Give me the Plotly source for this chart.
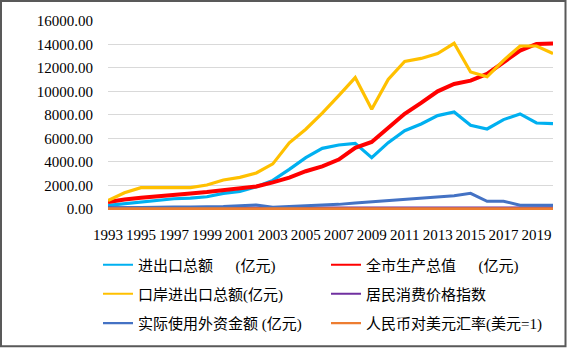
import plotly.graph_objects as go

years = [str(y) for y in range(1993, 2021)]
tick_years = years[::2]
y_ticks = list(range(0, 16001, 2000))

trade_total = [290, 430, 630, 740, 860, 910, 1030, 1310, 1490, 1880, 2420, 3360, 4360, 5150,
               5440, 5580, 4360, 5640, 6650, 7230, 7940, 8250, 7110, 6800, 7600, 8080, 7310, 7250]
gdp = [570, 800, 940, 1090, 1200, 1310, 1430, 1570, 1710, 1900, 2250, 2650, 3200, 3620,
       4200, 5200, 5700, 6920, 8100, 9020, 10010, 10640, 10920, 11490, 12490, 13480, 14050, 14080]
port_trade = [710, 1370, 1800, 1790, 1760, 1800, 2030, 2460, 2680, 3050, 3830, 5620, 6780, 8150,
              9650, 11180, 8490, 11020, 12560, 12810, 13230, 14100, 11660, 11250, 12650, 13870, 13870, 13220]
cpi = [114.7, 124.1, 117.1, 108.3, 102.8, 99.2, 98.6, 100.4, 100.7, 99.2, 101.2, 103.9, 101.8, 101.5,
       104.8, 105.9, 99.3, 103.3, 105.3, 102.8, 102.6, 102.0, 101.4, 102.0, 101.6, 102.1, 102.9, 102.5]
fdi = [80, 110, 130, 140, 150, 160, 170, 190, 260, 330, 130, 180, 230, 280,
       380, 500, 600, 700, 800, 900, 1000, 1120, 1320, 640, 650, 300, 300, 300]
fx_rate = [5.76, 8.62, 8.35, 8.31, 8.29, 8.28, 8.28, 8.28, 8.28, 8.28, 8.28, 8.28, 8.19, 7.97,
           7.60, 6.95, 6.83, 6.77, 6.46, 6.31, 6.19, 6.14, 6.23, 6.64, 6.75, 6.62, 6.90, 6.90]

NB = "\u00a0"
series = [
    ("进出口总额" + NB * 6 + "(亿元)", trade_total, "#00B0F0", 3.2),
    ("全市生产总值" + NB * 6 + "(亿元)", gdp, "#FF0000", 4),
    ("口岸进出口总额(亿元)", port_trade, "#FFC000", 3.2),
    ("居民消费价格指数", cpi, "#7030A0", 2.5),
    ("实际使用外资金额" + NB + "(亿元)", fdi, "#4472C4", 3),
    ("人民币对美元汇率(美元=1)", fx_rate, "#ED7D31", 3),
]

W, H = 567, 348
ML, MR, MT = 108, 14, 21
PLOT_W = W - ML - MR
PLOT_H0 = 188  # height for 0..16000
YMIN = -100
plot_h = PLOT_H0 * (16000 - YMIN) / 16000
MB = H - MT - plot_h

def px_to_paper_x(px):
    return (px - ML) / PLOT_W

def py_to_paper_y(py):
    return (H - MB - py) / plot_h

fig = go.Figure()
legend_names = ["legend", "legend2", "legend3", "legend4", "legend5", "legend6"]
for i, ((name, vals, color, width), lg) in enumerate(zip(series, legend_names)):
    fig.add_trace(go.Scatter(x=years, y=vals, mode="lines", name=name,
                             line=dict(color=color, width=width),
                             legendgroup=f"g{i}", showlegend=False))
    # legend entry (thin line sample as in the reference)
    fig.add_trace(go.Scatter(x=[None], y=[None], mode="lines", name=name,
                             line=dict(color=color, width=2.2),
                             legendgroup=f"g{i}", legend=lg, showlegend=True,
                             hoverinfo="skip"))

font_serif = "Liberation Serif, Times New Roman, Noto Sans CJK SC, serif"
col_px = [98, 326]
row_py = [265, 294, 323.3]
legend_layout = {}
for i, lg in enumerate(legend_names):
    r, c = divmod(i, 2)
    legend_layout[lg] = dict(
        xref="container", yref="container",
        x=col_px[c] / W, y=1 - row_py[r] / H,
        xanchor="left", yanchor="middle", bgcolor="rgba(0,0,0,0)",
        font=dict(family=font_serif, size=15, color="#000000"),
        borderwidth=0,
    )

fig.update_layout(
    width=W, height=H,
    margin=dict(l=ML, r=MR, t=MT, b=MB, pad=0, autoexpand=False),
    paper_bgcolor="white", plot_bgcolor="white",
    showlegend=True,
    **legend_layout,
    xaxis=dict(type="category", tickmode="array", tickvals=tick_years, ticktext=tick_years,
               showgrid=False, zeroline=False, showline=False, ticks="",
               tickfont=dict(family=font_serif, size=15, color="#000000"),
               ticklabelstandoff=14, tickangle=0, automargin=False),
    yaxis=dict(range=[YMIN, 16000], tickmode="array", tickvals=y_ticks, tickformat=".2f",
               showgrid=True, gridcolor="#D9D9D9", gridwidth=1, zeroline=False,
               showline=False, ticks="", automargin=False,
               tickfont=dict(family=font_serif, size=15, color="#000000"),
               ticklabelstandoff=14),
    shapes=[dict(type="rect", xref="paper", yref="paper",
                 x0=px_to_paper_x(1), x1=px_to_paper_x(565.5),
                 y0=py_to_paper_y(346.5), y1=py_to_paper_y(1),
                 line=dict(color="#595959", width=2), fillcolor="rgba(0,0,0,0)", layer="above")],
)

fig.write_html("out.html", config={"displayModeBar": False},
               post_script="document.body.style.margin='0';document.body.style.overflow='hidden';")
